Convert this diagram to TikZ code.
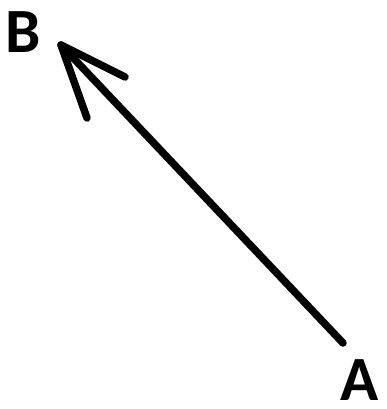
\documentclass[tikz,border=0pt]{standalone}
\usepackage{fontspec}
\setmainfont{Carlito}
\begin{document}
\begin{tikzpicture}[x=1pt,y=-1pt,
  lbl/.style={font=\fontsize{63}{63}\selectfont\bfseries, inner sep=0pt, anchor=base west},
  stroke/.style={line width=7.5pt, line cap=round, line join=round}]
\useasboundingbox (0,0) rectangle (387,409);
\node[lbl] (B) at (5,53) {B};
\node[lbl] (A) at (340,400) {A};
\coordinate (tip) at (61,45);
\coordinate (tail) at (343,343);
\coordinate (h1) at (125,77);
\coordinate (h2) at (87,118);
\draw[stroke] (tail) -- (tip);
\draw[stroke] (h1) -- (tip) -- (h2);
\end{tikzpicture}
\end{document}
